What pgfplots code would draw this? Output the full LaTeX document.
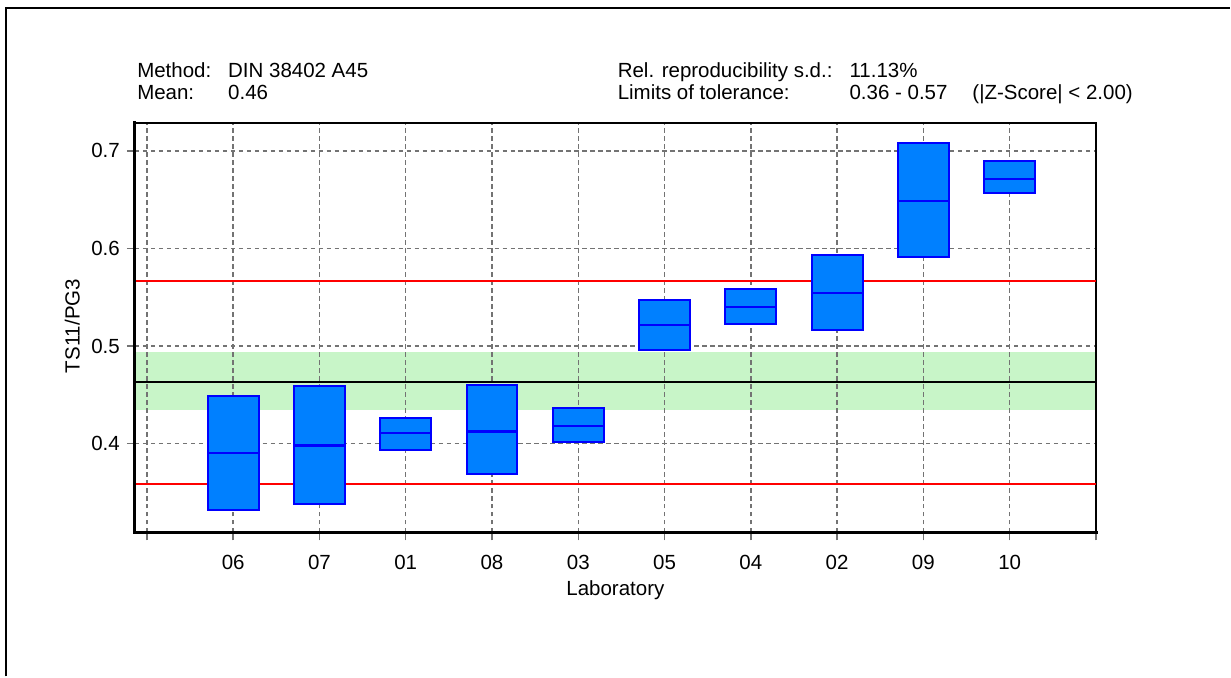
\documentclass[border=0pt]{standalone}
\usepackage{pgfplots}
\pgfplotsset{compat=1.18}
\usepackage{fontspec}
\setmainfont{Liberation Sans}
\definecolor{boxfill}{RGB}{0,128,255}
\definecolor{boxdraw}{RGB}{0,0,255}
\definecolor{bandgreen}{RGB}{200,245,200}
\definecolor{gridgray}{RGB}{115,115,115}
\definecolor{limred}{RGB}{255,0,0}
\pgfplotsset{
  labbox/.style={draw=boxdraw, fill=boxfill, line width=1pt, solid, mark=none},
  labmed/.style={draw=boxdraw, line width=1.1pt, solid, mark=none},
}
\begin{document}
\begin{tikzpicture}[font=\fontsize{10.25}{12}\selectfont]
\draw[line width=1.2pt] (2.9pt,0) -- (2.9pt,334.6pt) -- (615.5pt,334.6pt);
\node[anchor=base west, inner sep=0] at (68.5pt,299.75pt) {Method:};
\node[anchor=base west, inner sep=0] at (114pt,299.75pt) {DIN 38402 A45};
\node[anchor=base west, inner sep=0] at (68.5pt,288.75pt) {Mean:};
\node[anchor=base west, inner sep=0] at (114pt,288.75pt) {0.46};
\node[anchor=base west, inner sep=0] at (309pt,299.75pt) {Rel. reproducibility s.d.:};
\node[anchor=base west, inner sep=0] at (425pt,299.75pt) {11.13\%};
\node[anchor=base west, inner sep=0] at (309pt,288.75pt) {Limits of tolerance:};
\node[anchor=base west, inner sep=0] at (425pt,288.75pt) {0.36 - 0.57};
\node[anchor=base west, inner sep=0] at (486.5pt,288.75pt) {(|Z-Score| < 2.00)};
\begin{axis}[
  at={(67.5pt,72pt)}, anchor=south west,
  scale only axis, width=481pt, height=205pt,
  xmin=-0.139, xmax=11, ymin=0.3089, ymax=0.7287,
  xtick={0,1,2,3,4,5,6,7,8,9,10,11},
  xticklabels={,06,07,01,08,03,05,04,02,09,10,},
  ytick={0.4,0.5,0.6,0.7},
  /pgf/number format/assume math mode=true,
  yticklabel style={/pgf/number format/.cd, fixed, precision=1},
  xticklabel style={yshift=-3.6pt},
  grid=major,
  major grid style={gridgray, dash pattern=on 2.2pt off 1.8pt, line width=0.75pt},
  tick align=outside, tick pos=left, major tick length=4pt,
  tick style={gridgray, line width=0.75pt},
  axis line style={line width=1pt},
  set layers,
  xlabel={Laboratory}, ylabel={TS11/PG3},
  xlabel style={at={(axis description cs:0.5,-0.1537)}, anchor=base},
  ylabel style={at={(axis description cs:-0.065,0.504)}, anchor=center},
]
% tolerance band around the mean
\addplot[draw=none, fill=bandgreen, on layer=axis background]
  coordinates {(-0.139,0.434) (11,0.434) (11,0.4935) (-0.139,0.4935)} -- cycle;
% limits of tolerance
\addplot[limred, line width=0.75pt, mark=none] coordinates {(-0.139,0.3588) (11,0.3588)};
\addplot[limred, line width=0.75pt, mark=none] coordinates {(-0.139,0.5665) (11,0.5665)};
% mean
\addplot[black, line width=0.75pt, mark=none] coordinates {(-0.139,0.4632) (11,0.4632)};
% laboratories: box from lowest to highest value, line at the lab mean
% 06
\addplot[labbox] coordinates {(0.705,0.3324) (1.295,0.3324) (1.295,0.449) (0.705,0.449)} -- cycle;
\addplot[labmed] coordinates {(0.705,0.390) (1.295,0.390)};
% 07
\addplot[labbox] coordinates {(1.705,0.338) (2.295,0.338) (2.295,0.4594) (1.705,0.4594)} -- cycle;
\addplot[labmed] coordinates {(1.705,0.398) (2.295,0.398)};
% 01
\addplot[labbox] coordinates {(2.705,0.3935) (3.295,0.3935) (3.295,0.4266) (2.705,0.4266)} -- cycle;
\addplot[labmed] coordinates {(2.705,0.4106) (3.295,0.4106)};
% 08
\addplot[labbox] coordinates {(3.705,0.3686) (4.295,0.3686) (4.295,0.4597) (3.705,0.4597)} -- cycle;
\addplot[labmed] coordinates {(3.705,0.4123) (4.295,0.4123)};
% 03
\addplot[labbox] coordinates {(4.705,0.4017) (5.295,0.4017) (5.295,0.4369) (4.705,0.4369)} -- cycle;
\addplot[labmed] coordinates {(4.705,0.4184) (5.295,0.4184)};
% 05
\addplot[labbox] coordinates {(5.705,0.4963) (6.295,0.4963) (6.295,0.5475) (5.705,0.5475)} -- cycle;
\addplot[labmed] coordinates {(5.705,0.5212) (6.295,0.5212)};
% 04
\addplot[labbox] coordinates {(6.705,0.523) (7.295,0.523) (7.295,0.5585) (6.705,0.5585)} -- cycle;
\addplot[labmed] coordinates {(6.705,0.5397) (7.295,0.5397)};
% 02
\addplot[labbox] coordinates {(7.705,0.5168) (8.295,0.5168) (8.295,0.5936) (7.705,0.5936)} -- cycle;
\addplot[labmed] coordinates {(7.705,0.5544) (8.295,0.5544)};
% 09
\addplot[labbox] coordinates {(8.705,0.5913) (9.295,0.5913) (9.295,0.708) (8.705,0.708)} -- cycle;
\addplot[labmed] coordinates {(8.705,0.649) (9.295,0.649)};
% 10
\addplot[labbox] coordinates {(9.705,0.6569) (10.295,0.6569) (10.295,0.6897) (9.705,0.6897)} -- cycle;
\addplot[labmed] coordinates {(9.705,0.6712) (10.295,0.6712)};
\begin{pgfonlayer}{axis foreground}
\draw[line width=1.6pt, line cap=rect] (rel axis cs:0,1) -- (rel axis cs:0,0) -- (rel axis cs:1,0);
\end{pgfonlayer}
\end{axis}
\path (0,0) rectangle (615.5pt,338.5pt);
\end{tikzpicture}
\end{document}
